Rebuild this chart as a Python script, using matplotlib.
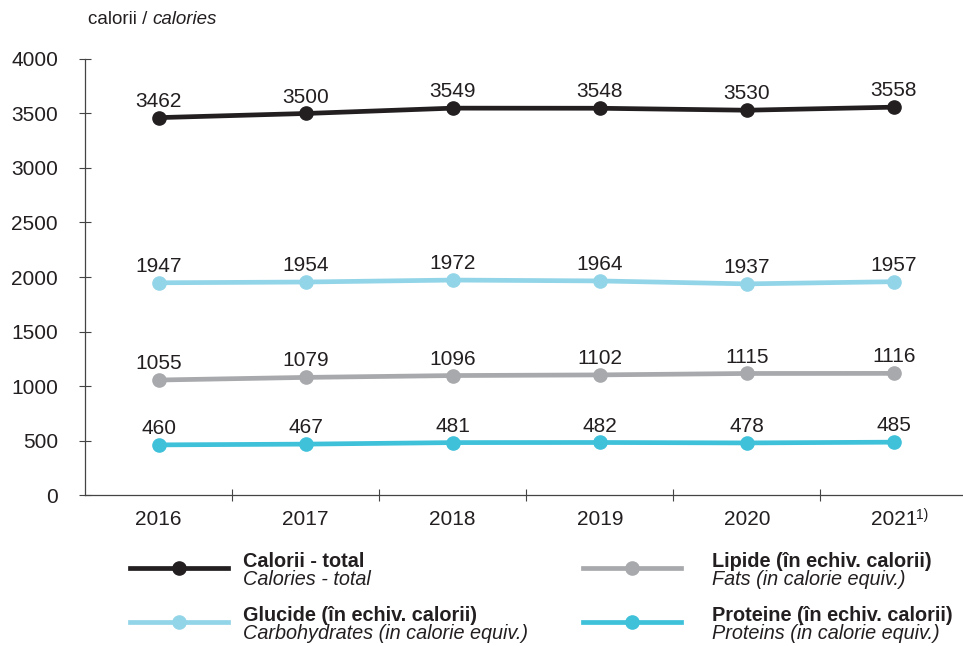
import matplotlib.pyplot as plt
from matplotlib.lines import Line2D

plt.rcParams["font.family"] = ["Liberation Sans", "DejaVu Sans"]

years = ["2016", "2017", "2018", "2019", "2020", "2021"]
total = [3462, 3500, 3549, 3548, 3530, 3558]
carbs = [1947, 1954, 1972, 1964, 1937, 1957]
fats = [1055, 1079, 1096, 1102, 1115, 1116]
proteins = [460, 467, 481, 482, 478, 485]

text_color = "#231f20"
series = [
    (total, "#231f20", "Calorii - total", "Calories - total"),
    (carbs, "#93d5e8", "Glucide (în echiv. calorii)", "Carbohydrates (in calorie equiv.)"),
    (fats, "#a7a9ac", "Lipide (în echiv. calorii)", "Fats (in calorie equiv.)"),
    (proteins, "#3fc1da", "Proteine (în echiv. calorii)", "Proteins (in calorie equiv.)"),
]

fig = plt.figure(figsize=(9.63, 6.46), dpi=100)
ax = fig.add_axes([0.0883, 0.2337, 0.9117, 0.675])

x = list(range(len(years)))
for values, color, _, _ in series:
    ax.plot(x, values, color=color, lw=3.4, marker="o", ms=9.5, solid_capstyle="butt")
    for xi, v in zip(x, values):
        ax.annotate(str(v), (xi, v), xytext=(0, 5), textcoords="offset points",
                    ha="center", va="bottom", fontsize=15, color=text_color)

ax.set_xlim(-0.5, 5.47)
ax.set_ylim(0, 4000)
ax.set_yticks(range(0, 4001, 500))
ax.set_yticklabels([str(v) for v in range(0, 4001, 500)])
ax.set_xticks([i + 0.5 for i in range(5)])
ax.set_xticklabels([])
ax.set_xticks(x, minor=True)
ax.set_xticklabels(years, minor=True)
ax.tick_params(axis="x", which="minor", length=0, pad=11, labelsize=15, labelcolor=text_color)
ax.tick_params(axis="x", which="major", direction="inout", length=8, width=0.8, color="#444444")
ax.tick_params(axis="y", direction="inout", length=8, width=0.8, color="#444444",
               pad=15.5, labelsize=15, labelcolor=text_color)

# shift the last year a bit left so the footnote mark fits like in the original
last = ax.get_xticklabels(minor=True)[-1]
last.set_x(4.97)
ax.annotate("1)", (5, 0), xycoords=("data", "axes fraction"), xytext=(16, -9),
            textcoords="offset points", fontsize=10, color=text_color, va="top", ha="left")

for side in ["top", "right"]:
    ax.spines[side].set_visible(False)
for side in ["left", "bottom"]:
    ax.spines[side].set_color("#444444")
    ax.spines[side].set_linewidth(0.9)

renderer = fig.canvas.get_renderer()
t1 = fig.text(88 / 963, 1 - 20 / 646, "calorii / ", fontsize=13.5, color=text_color, va="center")
w = t1.get_window_extent(renderer).width / fig.bbox.width
fig.text(88 / 963 + w, 1 - 20 / 646, "calories", fontsize=13.5, color=text_color,
         style="italic", va="center")

# manual legend
legend_pos = [(130, 568), (130, 622), (583, 568), (583, 622)]
for (lx, ly), (_, color, ro, en) in zip(legend_pos, series):
    fy = 1 - ly / 646
    fig.add_artist(Line2D([lx / 963, (lx + 98) / 963], [fy, fy], color=color, lw=3.4,
                          transform=fig.transFigure))
    fig.add_artist(Line2D([(lx + 49) / 963], [fy], color=color, marker="o", ms=9.5,
                          transform=fig.transFigure))
    tx = (lx + 113 + (16 if lx > 300 else 0)) / 963
    fig.text(tx, 1 - 567 / 646 + (568 - ly) / 646, ro, fontsize=14.3, fontweight="bold",
             color=text_color, va="baseline")
    fig.text(tx, 1 - 585 / 646 + (568 - ly) / 646, en, fontsize=14.3, style="italic",
             color=text_color, va="baseline")

fig.savefig("out.png", dpi=100)
